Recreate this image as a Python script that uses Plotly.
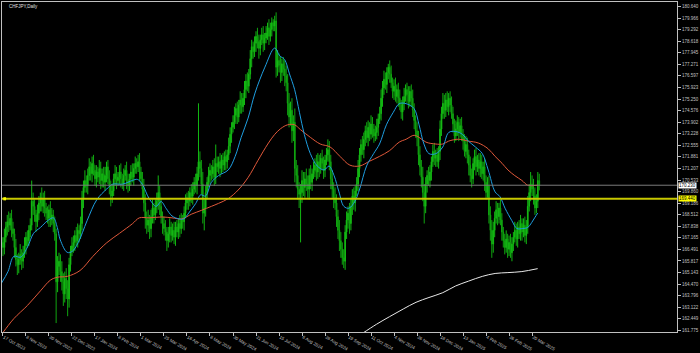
import plotly.graph_objects as go

# ---------------- data ----------------
first_open = 167.2
closes = [
    166.9, 166.6, 167.2, 167.8, 168.1, 167.9, 168.3, 167.7, 167.4, 166.6,
    165.9, 165.6, 165.9, 166.2, 165.8, 166.3, 166.7, 167.2, 167.0, 167.6,
    167.9, 169.3, 169.0, 168.5, 168.1, 168.6, 169.2, 169.5, 169.0, 169.4,
    168.9, 168.6, 168.3, 168.8, 168.2, 168.5, 168.0, 167.4, 164.6, 165.5,
    165.8, 165.2, 164.6, 163.9, 164.8, 164.2, 163.6, 165.6, 166.4, 166.7,
    166.9, 167.3, 167.0, 167.6, 167.4, 168.0, 169.4, 170.1, 170.5, 170.2,
    170.8, 171.3, 170.9, 171.5, 171.1, 170.6, 171.0, 170.7, 171.2, 170.5,
    170.9, 170.4, 170.8, 171.3, 170.6, 170.2, 169.6, 169.9, 170.6, 170.9,
    170.5, 170.7, 171.0, 170.6, 170.3, 170.8, 171.1, 170.5, 170.2, 170.6,
    171.0, 170.7, 171.2, 171.5, 171.3, 171.6, 171.0, 170.6, 170.0, 169.2,
    168.3, 167.9, 168.2, 167.7, 168.4, 168.9, 168.5, 169.0, 169.3, 169.8,
    169.0, 168.4, 168.0, 167.7, 167.5, 167.0, 167.4, 167.8, 167.3, 167.6,
    167.2, 167.8, 167.5, 168.0, 167.7, 168.2, 168.1, 168.6, 169.2, 169.5,
    169.3, 169.8, 169.6, 170.0, 170.4, 170.2, 170.9, 171.6, 171.2, 170.3,
    168.6, 168.9, 169.8, 170.4, 170.8, 171.1, 170.9, 171.3, 170.7, 171.5,
    171.3, 171.6, 171.2, 171.7, 171.4, 171.9, 171.6, 172.0, 172.5, 173.2,
    173.6, 173.9, 174.3, 174.7, 174.2, 174.9, 175.2, 174.8, 175.3, 175.8,
    176.3, 176.0, 176.7, 177.6, 178.3, 178.0, 178.5, 178.9, 178.6, 178.2,
    178.7, 179.0, 178.5, 178.8, 179.1, 179.4, 178.9, 179.3, 179.7, 179.5,
    179.8, 177.1, 177.5, 177.2, 176.8, 177.3, 177.0, 176.6, 176.2, 175.0,
    174.2, 174.6, 173.4, 173.9, 171.2, 170.8, 170.0, 169.7, 169.8, 170.5,
    170.1, 170.6, 170.3, 170.0, 170.8, 170.4, 170.9, 171.1, 171.4, 171.0,
    171.6, 171.2, 171.8, 171.5, 171.1, 171.7, 172.0, 172.3, 171.6, 170.6,
    170.0, 169.5, 169.2, 168.4, 167.6, 167.0, 166.5, 166.0, 165.8, 167.5,
    168.2, 168.6, 168.0, 169.0, 169.6, 169.2, 169.9, 170.3, 171.2, 172.0,
    172.6, 172.3, 172.9, 173.4, 173.0, 173.6, 173.2, 173.8, 173.5, 173.1,
    173.3, 173.6, 174.1, 174.4, 175.3, 175.9, 176.4, 176.1, 176.8, 177.1,
    176.7, 176.2, 175.7, 176.0, 175.4, 175.8, 175.3, 174.9, 174.5, 175.0,
    175.4, 175.8, 175.5, 175.1, 175.7, 175.3, 174.6, 174.0, 173.4, 173.0,
    172.0, 171.3, 170.7, 169.8, 169.0, 170.3, 170.8, 170.5, 171.0, 171.6,
    172.2, 171.8, 172.0, 171.6, 172.2, 173.5, 174.4, 175.0, 174.6, 175.2,
    174.8, 175.3, 174.9, 174.4, 173.8, 173.1, 173.5, 173.9, 173.3, 173.7,
    173.2, 172.8, 172.2, 172.6, 172.0, 171.4, 170.8, 170.6, 171.5, 171.9,
    171.3, 171.7, 171.2, 171.6, 170.9, 171.3, 170.4, 169.8, 170.2, 168.5,
    167.6, 166.8, 167.6, 168.3, 168.8, 168.4, 168.9, 168.2, 167.5, 167.0,
    166.6, 167.1, 166.5, 166.9, 166.3, 166.8, 167.2, 167.6, 167.1, 167.8,
    167.4, 168.0, 167.5, 167.9, 167.3, 167.8, 169.0, 169.8, 170.3, 170.0,
    169.6, 168.9, 169.3, 170.5, 170.23,
]
wick_up = [
    0.4, 0.3, 0.5, 0.3, 0.4, 0.6, 0.3, 0.5, 0.4, 0.3,
    0.5, 0.3, 0.4, 0.6, 0.3, 0.4, 0.5, 0.3, 0.4, 0.3,
    0.4, 1.2, 0.5, 0.4, 0.3, 0.5, 0.4, 0.3, 0.6, 0.4,
    0.5, 0.3, 0.4, 0.3, 0.5, 0.4, 0.3, 0.4, 0.3, 0.6,
    0.5, 0.4, 0.6, 0.5, 0.4, 0.6, 0.5, 0.4, 0.3, 0.5,
    0.4, 0.3, 0.5, 0.4, 0.3, 0.4, 0.5, 0.4, 0.6, 0.3,
    0.4, 0.5, 0.3, 0.4, 0.5, 0.3, 0.4, 0.3, 0.5, 0.4,
    0.3, 0.4, 0.5, 0.3, 0.4, 0.5, 0.3, 0.4, 0.3, 0.5,
    0.4, 0.3, 0.4, 0.5, 0.3, 0.4, 0.3, 0.5, 0.4, 0.3,
    0.4, 0.5, 0.3, 0.4, 0.3, 0.4, 0.5, 0.3, 0.4, 0.6,
    0.5, 0.4, 0.6, 0.3, 0.4, 0.5, 0.3, 0.4, 0.5, 1.0,
    0.4, 0.5, 0.3, 0.4, 0.5, 0.3, 0.4, 0.5, 0.3, 0.4,
    0.5, 0.3, 0.4, 0.3, 0.5, 0.4, 0.3, 0.4, 0.5, 0.3,
    0.4, 0.3, 0.5, 0.4, 0.3, 0.5, 0.4, 3.4, 0.6, 0.5,
    0.7, 0.5, 0.4, 0.3, 0.5, 0.4, 0.3, 0.4, 0.5, 1.1,
    0.4, 0.3, 0.5, 0.3, 0.4, 0.3, 0.4, 0.3, 0.5, 0.4,
    0.3, 0.4, 0.5, 0.3, 0.4, 0.3, 0.5, 0.4, 0.3, 0.5,
    0.4, 0.5, 0.3, 0.5, 0.4, 0.3, 0.4, 0.3, 0.5, 0.4,
    0.3, 0.4, 0.5, 0.3, 0.4, 0.3, 0.5, 0.4, 0.3, 0.2,
    0.3, 0.5, 0.6, 0.4, 0.5, 0.3, 0.4, 0.5, 0.6, 0.5,
    0.6, 0.5, 0.7, 0.4, 0.8, 0.5, 0.6, 0.4, 0.5, 0.6,
    0.5, 0.4, 0.6, 0.5, 0.4, 0.6, 0.3, 0.5, 0.4, 0.6,
    0.5, 0.4, 0.3, 0.5, 0.4, 0.3, 0.4, 0.6, 0.5, 0.4,
    0.5, 0.4, 0.6, 0.5, 0.4, 0.6, 0.5, 0.4, 0.5, 0.4,
    0.5, 0.4, 0.6, 0.5, 0.4, 0.5, 0.3, 0.4, 0.5, 0.4,
    0.3, 0.5, 0.4, 0.3, 0.5, 0.4, 0.3, 0.5, 0.4, 0.3,
    0.4, 0.5, 0.3, 0.4, 0.5, 0.4, 0.5, 0.4, 0.3, 0.2,
    0.4, 0.5, 0.3, 0.4, 0.5, 0.3, 0.4, 0.5, 0.3, 0.4,
    0.5, 0.3, 0.4, 0.5, 0.3, 0.4, 0.5, 0.4, 0.3, 0.5,
    0.4, 0.5, 0.4, 0.6, 0.5, 0.4, 0.3, 0.5, 0.4, 0.3,
    0.4, 0.5, 0.3, 0.4, 0.3, 0.5, 0.4, 0.6, 0.5, 0.4,
    0.5, 0.3, 0.4, 0.5, 0.4, 0.3, 0.5, 0.4, 0.3, 0.4,
    0.5, 0.3, 0.4, 0.5, 0.4, 0.3, 0.5, 0.4, 0.3, 0.4,
    0.5, 0.3, 0.4, 0.5, 0.4, 0.3, 0.5, 0.4, 0.5, 0.6,
    0.5, 0.6, 0.5, 0.4, 0.5, 0.4, 0.3, 0.5, 0.4, 0.3,
    0.4, 0.5, 0.3, 0.4, 0.5, 0.4, 0.3, 0.5, 0.4, 0.3,
    0.4, 0.5, 0.3, 0.4, 0.5, 0.4, 0.6, 0.5, 0.7, 0.5,
    0.6, 0.5, 0.4, 0.5, 0.4,
]
wick_dn = [
    0.3, 0.5, 0.4, 0.3, 0.5, 0.4, 0.3, 0.5, 0.4, 0.6,
    0.4, 0.6, 0.5, 0.3, 0.5, 0.4, 0.3, 0.5, 0.4, 0.3,
    0.4, 0.3, 0.5, 0.4, 0.6, 0.3, 0.4, 0.5, 0.3, 0.4,
    0.5, 0.4, 0.3, 0.5, 0.4, 0.3, 0.5, 0.4, 2.4, 0.6,
    0.5, 0.6, 0.5, 0.7, 0.5, 0.6, 1.0, 0.5, 0.4, 0.3,
    0.4, 0.5, 0.3, 0.4, 0.5, 0.3, 0.4, 0.5, 0.3, 0.4,
    0.5, 0.3, 0.4, 0.5, 0.3, 0.4, 0.5, 0.3, 0.4, 0.5,
    0.4, 0.3, 0.5, 0.4, 0.3, 0.5, 0.6, 0.4, 0.3, 0.4,
    0.5, 0.3, 0.4, 0.5, 0.3, 0.4, 0.3, 0.5, 0.4, 0.3,
    0.4, 0.3, 0.5, 0.3, 0.4, 0.3, 0.5, 0.4, 0.6, 0.5,
    0.6, 0.5, 0.4, 0.6, 0.5, 0.4, 0.5, 0.3, 0.4, 0.5,
    0.5, 0.4, 0.6, 0.4, 0.5, 0.6, 0.4, 0.5, 0.4, 0.3,
    0.4, 0.5, 0.3, 0.4, 0.5, 0.3, 0.4, 0.5, 0.3, 0.4,
    0.5, 0.3, 0.4, 0.5, 0.3, 0.4, 0.5, 0.4, 0.5, 0.6,
    0.6, 1.0, 0.5, 0.4, 0.3, 0.5, 0.4, 0.3, 0.5, 0.4,
    0.3, 0.4, 0.5, 0.3, 0.4, 0.3, 0.5, 0.4, 0.3, 0.4,
    0.5, 0.3, 0.4, 0.5, 0.4, 0.3, 0.5, 0.4, 0.3, 0.4,
    0.5, 0.3, 0.4, 0.3, 0.5, 0.4, 0.3, 0.5, 0.4, 0.6,
    0.4, 0.3, 0.5, 0.4, 0.3, 0.4, 0.5, 0.3, 0.4, 0.3,
    0.3, 0.6, 0.5, 0.4, 0.6, 0.5, 0.4, 0.6, 0.5, 0.7,
    0.6, 0.5, 0.7, 0.6, 0.8, 0.7, 0.6, 0.8, 2.8, 0.6,
    0.5, 0.6, 0.4, 0.5, 0.6, 0.4, 0.5, 0.3, 0.4, 0.5,
    0.4, 0.5, 0.3, 0.4, 0.5, 0.4, 0.3, 0.4, 0.5, 0.6,
    0.5, 0.6, 0.4, 0.6, 0.5, 0.6, 0.5, 0.4, 0.4, 0.5,
    0.4, 0.5, 0.6, 0.4, 0.5, 0.4, 0.5, 0.3, 0.4, 0.5,
    0.4, 0.3, 0.5, 0.4, 0.3, 0.5, 0.4, 0.3, 0.5, 0.4,
    0.3, 0.4, 0.5, 0.3, 0.4, 0.5, 0.4, 0.3, 0.5, 0.4,
    0.5, 0.3, 0.4, 0.5, 0.3, 0.4, 0.5, 0.3, 0.4, 0.5,
    0.4, 0.3, 0.5, 0.4, 0.3, 0.5, 0.4, 0.5, 0.4, 0.5,
    0.6, 0.5, 0.6, 0.5, 1.0, 0.4, 0.5, 0.3, 0.4, 0.5,
    0.3, 0.4, 0.5, 0.3, 0.4, 0.5, 0.4, 0.3, 0.5, 0.4,
    0.3, 0.5, 0.4, 0.3, 0.5, 0.4, 0.3, 0.4, 0.5, 0.3,
    0.4, 0.5, 0.3, 0.4, 0.5, 0.6, 0.4, 0.5, 0.3, 0.4,
    0.5, 0.3, 0.4, 0.5, 0.3, 0.4, 0.5, 0.4, 0.3, 0.5,
    0.6, 0.8, 0.5, 0.4, 0.3, 0.5, 0.4, 0.3, 0.5, 0.4,
    0.4, 0.3, 0.5, 0.4, 0.3, 0.5, 0.4, 0.3, 0.4, 0.5,
    0.3, 0.4, 0.5, 0.3, 0.4, 0.5, 0.4, 0.3, 0.5, 0.4,
    0.5, 0.4, 0.3, 0.4, 0.3,
]

# moving averages (bar position, price)
blue_idx = [0, 4.5, 8.6, 13.4, 18.2, 22.3, 27.1, 32.0, 36.1, 38.8, 40.9, 45.7, 49.1, 53.3,
            59.5, 66.3, 73.2, 77.3, 84.2, 91.1, 94.5, 97.9, 102.7, 107.6, 111.0, 114.4,
            118.6, 123.4, 126.8, 130.2, 135.1, 138.5, 141.9, 146.0, 150.9, 157.7, 162.5,
            166.7, 171.5, 176.3, 183.2, 190.0, 193.5, 196.9, 200.3, 203.8, 207.2, 210.6,
            214.8, 219.6, 224.4, 227.8, 231.3, 234.7, 238.1, 241.6, 245.7, 249.1, 253.9,
            258.8, 262.9, 267.7, 272.5, 276.6, 281.4, 286.9, 290.4, 293.8, 297.3, 302.1,
            306.9, 311.0, 315.8, 320.6, 324.7, 329.6, 334.4, 338.5, 343.3, 346.7, 350.2,
            355.0, 358.4, 362.5, 366.0, 368.7, 370.8, 372.9]
blue_val = [164.53, 165.20, 166.09, 166.04, 166.65, 167.43, 167.77, 168.16, 168.33, 167.77,
            167.04, 166.32, 166.37, 166.88, 168.16, 169.39, 170.01, 170.29, 170.29, 170.51,
            170.57, 170.29, 169.45, 169.00, 169.28, 168.89, 168.44, 168.27, 168.27, 168.61,
            169.17, 169.67, 169.60, 170.40, 170.79, 171.12, 171.91, 173.02, 174.14, 175.60,
            177.11, 178.22, 177.77, 177.55, 176.71, 175.82, 174.48, 173.19, 172.07, 171.35,
            171.12, 171.35, 170.79, 169.84, 169.00, 168.89, 169.28, 170.01, 171.35, 172.07,
            172.63, 173.75, 174.48, 174.98, 174.98, 174.70, 173.75, 172.63, 172.07, 172.07,
            172.46, 173.30, 173.36, 173.19, 172.80, 172.46, 172.07, 171.12, 169.84, 169.56,
            168.89, 168.16, 167.71, 167.71, 167.77, 168.05, 168.33, 168.61]

red_idx = [0, 1.7, 8.6, 18.2, 27.1, 34.0, 38.8, 45.7, 54.6, 63.6, 73.2, 82.1, 91.1, 95.9,
           102.7, 111.7, 118.6, 125.4, 132.3, 139.2, 146.0, 150.9, 157.7, 164.6, 171.5,
           178.4, 185.2, 190.0, 194.2, 199.0, 203.8, 207.9, 214.8, 221.7, 228.5, 235.4,
           242.3, 249.1, 256.0, 262.9, 269.8, 276.6, 281.4, 286.9, 290.4, 295.2, 302.1,
           306.9, 311.0, 317.9, 324.7, 331.6, 338.5, 343.3, 348.1, 352.2, 357.0, 361.9,
           366.0, 372.9]
red_val = [161.55, 161.73, 162.46, 163.24, 164.08, 164.70, 164.87, 164.92, 165.26, 166.09,
           166.88, 167.43, 167.99, 168.33, 168.33, 168.38, 168.33, 168.27, 168.55, 168.77,
           169.00, 169.17, 169.45, 169.95, 170.68, 171.68, 172.63, 173.19, 173.53, 173.75,
           173.75, 173.47, 173.02, 172.63, 172.46, 171.91, 171.40, 171.35, 171.63, 171.91,
           172.24, 172.74, 172.91, 173.14, 173.02, 172.74, 172.63, 172.63, 172.80, 172.91,
           172.80, 172.69, 172.35, 171.91, 171.51, 171.12, 170.79, 170.51, 170.23, 170.23]

white_idx = [250.5, 260.8, 269.8, 279.4, 288.3, 297.3, 306.9, 315.8, 324.7, 334.4,
             343.3, 352.2, 361.9, 372.9]
white_val = [161.57, 162.13, 162.57, 163.02, 163.41, 163.69, 163.97, 164.36, 164.64,
             164.92, 165.09, 165.14, 165.20, 165.37]

bid_price = 170.23
hline_price = 169.44

ytick_vals = [161.775, 162.449, 163.122, 163.796, 164.470, 165.143, 165.817, 166.491,
              167.165, 167.838, 168.512, 169.186, 169.860, 170.533, 171.207, 171.881,
              172.555, 173.228, 173.902, 174.576, 175.250, 175.923, 176.597, 177.271,
              177.945, 178.618, 179.292, 179.966, 180.640]
xtick_idx = [1, 17, 33, 49, 65, 81, 97, 113, 129, 145, 161, 177, 193, 209, 225, 241,
             257, 273, 289, 305, 321, 337, 353, 369]
xtick_labels = ["17 Oct 2023", "8 Nov 2023", "30 Nov 2023", "22 Dec 2023", "17 Jan 2024",
                "8 Feb 2024", "1 Mar 2024", "25 Mar 2024", "16 Apr 2024", "8 May 2024",
                "30 May 2024", "21 Jun 2024", "15 Jul 2024", "6 Aug 2024", "28 Aug 2024",
                "19 Sep 2024", "11 Oct 2024", "4 Nov 2024", "26 Nov 2024", "18 Dec 2024",
                "13 Jan 2025", "4 Feb 2025", "26 Feb 2025", "20 Mar 2025"]

# ---------------- build OHLC ----------------
n = len(closes)
opens = [first_open] + closes[:-1]
highs = [max(o, c) + w for o, c, w in zip(opens, closes, wick_up)]
lows = [min(o, c) - w for o, c, w in zip(opens, closes, wick_dn)]
xs = list(range(n))

AX = "#c0c0c0"
FONT = "Liberation Sans"

fig = go.Figure()
fig.add_trace(go.Candlestick(
    x=xs, open=opens, high=highs, low=lows, close=closes,
    increasing=dict(line=dict(color="#12b812", width=1), fillcolor="#55ff44"),
    decreasing=dict(line=dict(color="#10a410", width=1), fillcolor="#139013"),
    whiskerwidth=0, showlegend=False, hoverinfo="skip"))
fig.add_trace(go.Scatter(x=red_idx, y=red_val, mode="lines",
                         line=dict(color="#e0583a", width=1, shape="spline"),
                         showlegend=False, hoverinfo="skip"))
fig.add_trace(go.Scatter(x=blue_idx, y=blue_val, mode="lines",
                         line=dict(color="#1e9ee0", width=1, shape="spline"),
                         showlegend=False, hoverinfo="skip"))
fig.add_trace(go.Scatter(x=white_idx, y=white_val, mode="lines",
                         line=dict(color="#e8e8e8", width=1, shape="spline"),
                         showlegend=False, hoverinfo="skip"))

fig.add_shape(type="line", xref="paper", yref="y", x0=0, x1=1, y0=bid_price, y1=bid_price,
              line=dict(color="#7a7a7a", width=1))
fig.add_shape(type="line", xref="paper", yref="y", x0=0, x1=1, y0=hline_price, y1=hline_price,
              line=dict(color="#c8c800", width=2))
fig.add_shape(type="rect", xref="paper", yref="y", x0=0.002, x1=0.006,
              y0=hline_price - 0.09, y1=hline_price + 0.09,
              fillcolor="#ffff00", line=dict(width=0))

fig.add_annotation(xref="paper", yref="y", x=1.0015, y=bid_price, xanchor="left",
                   yanchor="middle", text="%.3f" % bid_price, showarrow=False,
                   bgcolor="#ffffff", borderpad=0,
                   font=dict(family=FONT, size=4.5, color="#000000"))
fig.add_annotation(xref="paper", yref="y", x=1.0015, y=hline_price, xanchor="left",
                   yanchor="middle", text="%.3f" % hline_price, showarrow=False,
                   bgcolor="#ffff00", borderpad=0,
                   font=dict(family=FONT, size=4.5, color="#000000"))
fig.add_annotation(xref="paper", yref="paper", x=0.008, y=0.999, xanchor="left",
                   yanchor="top", text="CHFJPY,Daily", showarrow=False,
                   font=dict(family=FONT, size=4.5, color="#e0e0e0"))

fig.update_layout(
    width=700, height=353, margin=dict(l=1, r=16, t=2, b=7),
    paper_bgcolor="#000000", plot_bgcolor="#000000",
    font=dict(family=FONT, size=4.5, color=AX),
    xaxis=dict(type="linear", range=[0.344, 469.8], rangeslider=dict(visible=False),
               tickvals=xtick_idx, ticktext=xtick_labels, ticks="outside", ticklen=3,
               tickcolor=AX, tickwidth=1, showline=True, linecolor=AX, linewidth=1,
               mirror=True, showgrid=False, zeroline=False,
               ticklabelposition="outside right",
               tickfont=dict(family=FONT, size=4.5, color=AX)),
    yaxis=dict(side="right", range=[161.680, 180.903], tickvals=ytick_vals,
               ticktext=["%.3f" % v for v in ytick_vals], ticks="outside", ticklen=3,
               tickcolor=AX, tickwidth=1, showline=True, linecolor=AX, linewidth=1,
               mirror=True, showgrid=False, zeroline=False,
               tickfont=dict(family=FONT, size=4.5, color=AX)),
)

fig.write_html("out.html")
